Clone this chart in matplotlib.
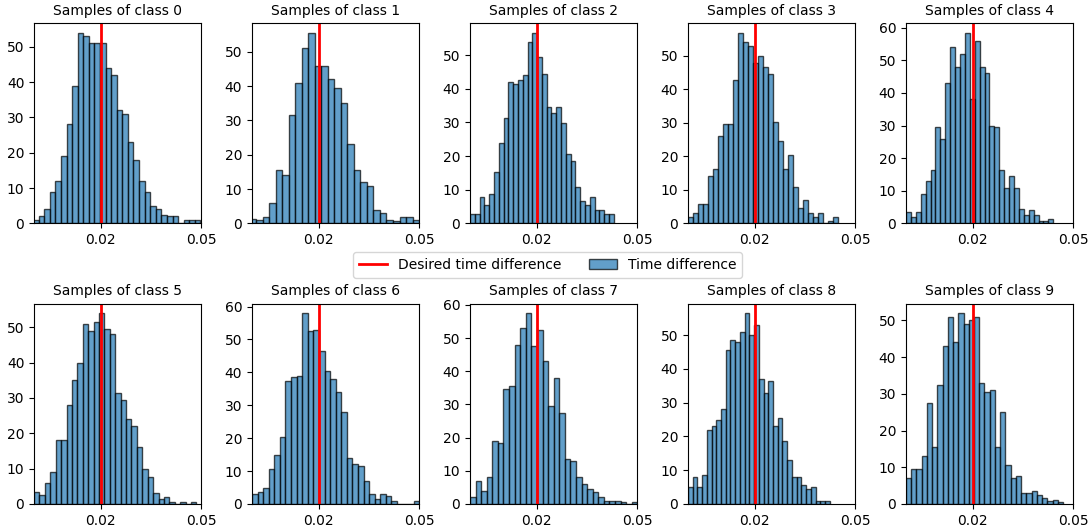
import numpy as np
import matplotlib
matplotlib.use("Agg")
import matplotlib.pyplot as plt

desired = 0.02
titles = [f"Samples of class {i}" for i in range(10)]

# bin start and width per class (density histograms, 30 bins over data range)
bin_start = [-0.0003, -0.0007, 0.0, 0.0, 0.0, 0.0, 0.0, 0.0, 0.0, 0.0]
bin_width = [0.00167, 0.00195, 0.001435, 0.0015, 0.00147, 0.00162, 0.00167, 0.00167, 0.001414, 0.001567]

h0 = [1, 2, 4, 9, 12, 19, 28, 39, 54, 53, 51, 51, 51, 44, 42, 32, 31, 23, 18, 12, 9, 5, 4, 2.5, 2, 2, 0, 1, 1, 1]
h1 = [1.4, 1, 2, 6, 15.6, 14, 31.7, 41, 51, 55.6, 46, 46, 42, 39.5, 35, 23, 15.6, 12, 11, 4, 3, 1, 0.6, 2, 2, 1]
h2 = [2.7, 2.7, 7.9, 5.4, 8.7, 15.3, 24, 31.4, 42, 41.4, 42.6, 44, 54, 56.7, 49.4, 44.5, 34.6, 32.7, 34.6, 29.9, 20.7, 18.6, 10.7, 6.7, 5.4, 7.9, 4, 4, 2.7, 2.7]
h3 = [2, 3.2, 5.9, 5.9, 14.3, 16.2, 26, 29.8, 29.8, 42.8, 57, 54.3, 53, 48, 49.9, 46.8, 44.7, 30.3, 24.7, 16.2, 20.3, 11, 4.5, 7, 3.2, 2, 3.2, 0, 0.7, 2]
h4 = [3.5, 2, 3.5, 9, 13, 16.5, 29.5, 26, 43, 54, 48, 52, 58.5, 38, 56, 48, 46, 30, 29.5, 16.5, 11, 14.5, 11, 4.5, 2.5, 4, 2.5, 0.8, 0.8, 1.3]
h5 = [3.5, 2.5, 6, 9, 18, 18, 28, 35, 40, 51, 49, 51.5, 54, 49.5, 48, 31.5, 29.5, 24, 22, 16, 10, 7.5, 3, 1.5, 2, 0.7, 0, 0.7, 0, 0.7]
h6 = [3, 3.5, 5, 10.5, 15, 20.5, 37.5, 38.5, 39, 58, 52.5, 53, 46.5, 40.5, 38, 34, 28, 14, 12, 11.5, 7, 3, 1.5, 3, 2.5, 0.8, 0, 0, 0, 1]
h7 = [2, 7, 4, 8, 19, 18.5, 34.5, 35.5, 48, 53, 57.5, 47.5, 52.5, 43, 29.5, 38, 27.5, 13.5, 13, 8, 6, 4.5, 3.5, 2, 1, 1, 1, 0.5, 0, 0.5]
h8 = [5, 8, 5, 8.5, 22, 23, 25, 28, 45.5, 48.5, 48, 51, 56.5, 50, 53, 37, 33, 36.5, 23, 25.5, 18.5, 13, 8, 8, 5.5, 4.5, 5, 1, 1, 1]
h9 = [7, 9.5, 9.5, 13, 27.5, 15.5, 32.5, 43, 51, 44, 52, 49, 50, 51, 33, 30.5, 31, 15.5, 25, 10.5, 7, 7.5, 3, 3, 3.5, 2.5, 1.5, 0.8, 1, 0.5]
heights = [h0, h1, h2, h3, h4, h5, h6, h7, h8, h9]

xticks = [0.02, 0.05]
xtick_labels = ["0.02", "0.05"]

fig, axes = plt.subplots(2, 5, figsize=(10.91, 5.29), dpi=100)
fig.subplots_adjust(left=0.0312, right=0.9835, top=0.9565, bottom=0.0473,
                    wspace=0.305, hspace=0.40)

line_handle = None
bar_handle = None
for i, ax in enumerate(axes.flat):
    h = np.array(heights[i], dtype=float)
    n = len(h)
    edges = bin_start[i] + bin_width[i] * np.arange(n + 1)
    centers = 0.5 * (edges[:-1] + edges[1:])
    _, _, patches = ax.hist(centers, bins=edges, weights=h, color="#1f77b4", alpha=0.7,
                            edgecolor="black", linewidth=1.0, label="Time difference")
    ln = ax.axvline(desired, color="red", linewidth=2, label="Desired time difference")
    if i == 0:
        line_handle = ln
        bar_handle = patches[0]
    ax.set_xlim(0, 0.05)
    ax.set_xticks(xticks)
    ax.set_xticklabels(xtick_labels)
    ax.set_title(titles[i], fontsize=10)
    ax.tick_params(labelsize=10)

fig.legend([line_handle, bar_handle], ["Desired time difference", "Time difference"],
           loc="center", bbox_to_anchor=(0.502, 0.499), ncol=2, fontsize=10)

fig.savefig("out.png", dpi=100)
